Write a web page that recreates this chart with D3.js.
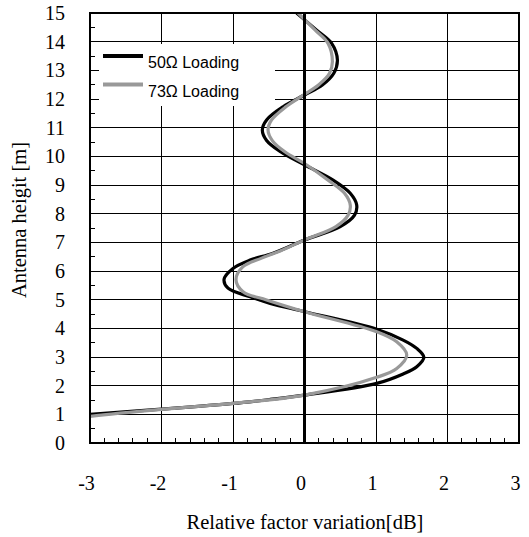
<!DOCTYPE html>
<html>
<head>
<meta charset="utf-8">
<script src="https://cdn.jsdelivr.net/npm/d3@7"></script>
<style>
  body { margin: 0; background: #fff; }
  svg { display: block; }
  svg text { font-family: 'Liberation Serif', 'Times New Roman', serif; font-size: 20px; fill: #000; }
  svg text.leg { font-family: 'Liberation Sans', Arial, sans-serif; font-size: 16px; }
</style>
</head>
<body>
<svg id="chart" width="529" height="537"></svg>
<script>
// 50 ohm loading: antenna height (m) and relative factor variation (dB)
const h50 = [0.8, 1.0, 1.18, 1.38, 1.52, 1.67, 2.08, 2.41, 2.66, 2.99, 3.30, 3.59, 3.97, 4.58, 4.87, 5.10, 5.40,
  5.71, 6.09, 6.38, 6.62, 7.08, 7.55, 7.95, 8.30, 8.71, 9.17, 9.70, 10.15, 10.55, 10.92, 11.27, 11.73,
  12.14, 12.49, 12.9, 13.36, 13.94, 14.4, 15.0];
const v50 = [-4.1, -3.0, -2.0, -1.0, -0.48, 0.0, 1.01, 1.38, 1.57, 1.67, 1.57, 1.38, 1.01, 0.0, -0.48, -0.76, -1.07,
  -1.125, -1.0, -0.76, -0.44, 0.0, 0.50, 0.70, 0.73, 0.64, 0.40, 0.0, -0.33, -0.53, -0.59, -0.53, -0.30,
  0.0, 0.25, 0.41, 0.46, 0.38, 0.17, -0.11];
// 73 ohm loading
const h73 = [0.75, 0.93, 1.17, 1.38, 1.67, 2.29, 2.6, 3.07, 3.53, 3.88, 4.58, 4.99, 5.28, 5.69, 6.15, 6.45, 6.7,
  7.08, 7.55, 7.95, 8.3, 8.71, 9.17, 9.75, 10.15, 10.55, 10.92, 11.27, 11.73, 12.16, 12.5, 12.9, 13.3,
  13.94, 14.4, 15.0];
const v73 = [-3.6, -3.0, -2.0, -1.0, 0.0, 1.01, 1.29, 1.43, 1.29, 1.01, 0.0, -0.53, -0.86, -0.958, -0.86, -0.6, -0.34,
  0.0, 0.44, 0.61, 0.64, 0.56, 0.33, 0.0, -0.27, -0.45, -0.51, -0.46, -0.26, 0.0, 0.2, 0.35, 0.39,
  0.33, 0.15, -0.09];
const seriesNames = ["50\u03A9 Loading", "73\u03A9 Loading"];
const xTicks = [-3, -2, -1, 0, 1, 2, 3];
const yTicks = [0, 1, 2, 3, 4, 5, 6, 7, 8, 9, 10, 11, 12, 13, 14, 15];

const svg = d3.select("#chart");
const pL = 90, pR = 519, pT = 13, pB = 443;

const x = d3.scaleLinear().domain([-3, 3]).range([pL, pR]);
const y = d3.scaleLinear().domain([0, 15]).range([pB, pT]);

// --- clip ---
svg.append("defs").append("clipPath").attr("id", "plot")
  .append("rect")
  .attr("x", pL).attr("y", pT)
  .attr("width", pR - pL).attr("height", pB - pT);

// --- grid ---
const grid = svg.append("g").attr("shape-rendering", "crispEdges");
grid.selectAll(".hgrid")
  .data(yTicks.filter(d => d > 0 && d < 15))
  .enter().append("line")
  .attr("x1", pL).attr("x2", pR)
  .attr("y1", d => y(d)).attr("y2", d => y(d))
  .attr("stroke", "#000").attr("stroke-width", 1);
grid.selectAll(".vgrid")
  .data(xTicks.filter(d => d !== 0 && Math.abs(d) < 3))
  .enter().append("line")
  .attr("x1", d => x(d)).attr("x2", d => x(d))
  .attr("y1", pT).attr("y2", pB)
  .attr("stroke", "#000").attr("stroke-width", 1);

// minor ticks
grid.selectAll(".ymin")
  .data(d3.range(0.5, 15, 1))
  .enter().append("line")
  .attr("x1", pL).attr("x2", pL + 5)
  .attr("y1", d => y(d)).attr("y2", d => y(d))
  .attr("stroke", "#000");
grid.selectAll(".xmin")
  .data(d3.range(-30, 30, 2).map(d => d / 10).filter(d => Math.abs(d % 1) > 0.01))
  .enter().append("line")
  .attr("x1", d => x(d)).attr("x2", d => x(d))
  .attr("y1", pB).attr("y2", pB - 5)
  .attr("stroke", "#000");

// --- legend background (hides grid behind it) ---
svg.append("rect")
  .attr("x", 99).attr("y", 44)
  .attr("width", 176).attr("height", 62)
  .attr("fill", "#fff");

// --- curves ---
const line = d3.line()
  .x(d => x(d[1]))
  .y(d => y(d[0]))
  .curve(d3.curveCatmullRom.alpha(0.5));

const curves = svg.append("g").attr("clip-path", "url(#plot)");
curves.append("path")
  .datum(d3.zip(h50, v50))
  .attr("d", line)
  .attr("fill", "none")
  .attr("stroke", "#000")
  .attr("stroke-width", 3.2);
curves.append("path")
  .datum(d3.zip(h73, v73))
  .attr("d", line)
  .attr("fill", "none")
  .attr("stroke", "#999")
  .attr("stroke-width", 3.2);

// zero line
svg.append("line")
  .attr("x1", x(0)).attr("x2", x(0))
  .attr("y1", pT).attr("y2", pB)
  .attr("stroke", "#000").attr("stroke-width", 3);

// frame
svg.append("rect")
  .attr("x", pL).attr("y", pT)
  .attr("width", pR - pL).attr("height", pB - pT)
  .attr("fill", "none").attr("stroke", "#000").attr("stroke-width", 2);

// --- tick labels ---
const gx = svg.append("g")
  .attr("transform", `translate(-4,${pB})`)
  .call(d3.axisBottom(x).tickValues(xTicks).tickSize(0).tickPadding(33).tickFormat(d => String(d)));
gx.select(".domain").remove();
gx.attr("font-family", null).attr("font-size", null);

const gy = svg.append("g")
  .attr("transform", `translate(${pL},0)`)
  .call(d3.axisLeft(y).tickValues(yTicks).tickSize(0).tickPadding(25).tickFormat(d => String(d)));
gy.select(".domain").remove();
gy.attr("font-family", null).attr("font-size", null);

// --- legend ---
const legend = svg.append("g");
[["#000", 0], ["#999", 1]].forEach(([c, i]) => {
  legend.append("line")
    .attr("x1", 103).attr("x2", 143)
    .attr("y1", 56 + i * 28.5).attr("y2", 56 + i * 28.5)
    .attr("stroke", c).attr("stroke-width", 3.8);
  legend.append("text")
    .attr("class", "leg")
    .attr("x", 148).attr("y", 68 + i * 29)
    .text(seriesNames[i]);
});

// --- axis titles ---
svg.append("text")
  .attr("x", 305).attr("y", 529)
  .attr("text-anchor", "middle")
  .style("font-size", "20.5px")
  .text("Relative factor variation[dB]");

svg.append("text")
  .attr("transform", "rotate(-90)")
  .attr("x", -220).attr("y", 26)
  .attr("text-anchor", "middle")
  .style("font-size", "20.5px")
  .text("Antenna heigit [m]");
</script>
</body>
</html>
